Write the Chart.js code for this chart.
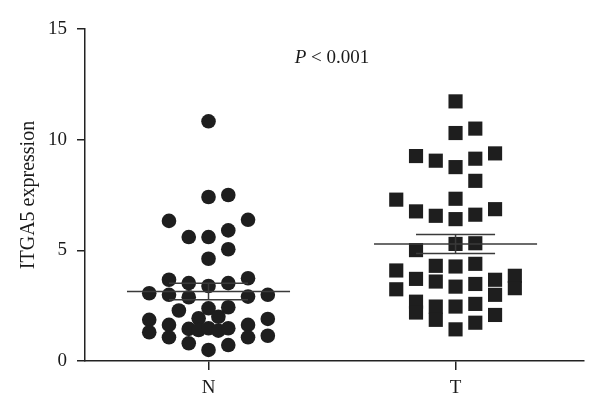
<!DOCTYPE html>
<html>
<head>
<meta charset="utf-8">
<script src="https://cdn.jsdelivr.net/npm/chart.js@4.4.0/dist/chart.umd.min.js"></script>
<style>
html, body { margin: 0; padding: 0; background: #fff; }
#wrap { width: 600px; height: 416px; }
</style>
</head>
<body>
<div id="wrap"><canvas id="dotplot"></canvas></div>
<script>
// groups on the x axis
const groups = ['N', 'T'];
const yTicks = [0, 5, 10, 15];

// N group: horizontal spread (x units from group centre) and ITGA5 expression
const nSpread = [0, 0, 0.08, -0.16, 0.16, -0.08, 0, 0.08, 0.08, 0, -0.16, 0.16, -0.08, 0, 0.08,
    -0.24, -0.16, -0.08, 0.16, 0.24, -0.12, 0, 0.08, -0.04, 0.04, -0.24, -0.16, 0.16, 0.24,
    -0.08, -0.04, 0, 0.04, 0.08, -0.24, -0.16, 0.16, 0.24, -0.08, 0.08, 0];
const nValues = [10.83, 7.41, 7.50, 6.33, 6.38, 5.60, 5.60, 5.90, 5.05, 4.62, 3.67, 3.74, 3.52, 3.39, 3.52,
    3.06, 2.99, 2.88, 2.91, 2.99, 2.28, 2.38, 2.43, 1.93, 2.00, 1.86, 1.63, 1.63, 1.90,
    1.45, 1.40, 1.48, 1.37, 1.48, 1.30, 1.07, 1.07, 1.14, 0.80, 0.72, 0.50];

// T group
const tSpread = [0, 0, 0.08, -0.16, -0.08, 0, 0.08, 0.16, 0.08, -0.24, 0, -0.16, -0.08, 0, 0.08, 0.16,
    0, 0.08, -0.16, -0.08, 0, 0.08, -0.24, -0.24, -0.16, -0.08, 0, 0.08, 0.16, 0.16, 0.16,
    0.24, 0.24, -0.16, -0.16, -0.08, -0.08, 0, 0.08, 0, 0.08];
const tValues = [11.73, 10.30, 10.50, 9.26, 9.05, 8.76, 9.14, 9.38, 8.14, 7.29, 7.33, 6.76, 6.56, 6.41, 6.61, 6.86,
    5.29, 5.32, 5.01, 4.30, 4.27, 4.39, 4.09, 3.24, 3.71, 3.59, 3.36, 3.48, 3.67, 2.99, 2.08,
    3.85, 3.29, 2.68, 2.19, 2.46, 1.86, 2.46, 2.58, 1.43, 1.73];

// mean and standard error
const groupMean = [3.14, 5.29];
const groupSem = [0.37, 0.43];

const pText = ['P', ' < 0.001'];

// ---- build datasets ----
function scatterPoints(center, spread, values) {
    return values.map((v, i) => ({ x: center + spread[i], y: v }));
}

function segment(x1, y1, x2, y2) {
    return {
        type: 'line',
        data: [{ x: x1, y: y1 }, { x: x2, y: y2 }],
        borderColor: '#3a3a3a',
        borderWidth: 1.5,
        pointRadius: 0,
        fill: false
    };
}

const meanHalf = 0.33;
const semHalf = 0.16;
const errorSets = [];
groups.forEach((g, i) => {
    const c = i + 1;
    const m = groupMean[i], s = groupSem[i];
    errorSets.push(segment(c - meanHalf, m, c + meanHalf, m));
    errorSets.push(segment(c - semHalf, m + s, c + semHalf, m + s));
    errorSets.push(segment(c - semHalf, m - s, c + semHalf, m - s));
    errorSets.push(segment(c, m - s, c, m + s));
});

// p value text above the groups
const pLabel = {
    id: 'pLabel',
    afterDraw(chart) {
        const ctx = chart.ctx;
        const x = chart.scales.x.getPixelForValue(1.5);
        const y = chart.scales.y.getPixelForValue(13.7);
        ctx.save();
        ctx.fillStyle = '#1a1a1a';
        ctx.textBaseline = 'middle';
        ctx.textAlign = 'left';
        ctx.font = 'italic 19px "Liberation Serif"';
        const w1 = ctx.measureText(pText[0]).width;
        ctx.font = '19px "Liberation Serif"';
        const w2 = ctx.measureText(pText[1]).width;
        const start = x - (w1 + w2) / 2;
        ctx.font = 'italic 19px "Liberation Serif"';
        ctx.fillText(pText[0], start, y);
        ctx.font = '19px "Liberation Serif"';
        ctx.fillText(pText[1], start + w1, y);
        ctx.restore();
    }
};

const ctx = document.getElementById('dotplot').getContext('2d');
const dotplot = new Chart(ctx, {
    type: 'scatter',
    data: {
        datasets: [
            ...errorSets,
            {
                label: 'N',
                data: scatterPoints(1, nSpread, nValues),
                pointStyle: 'circle',
                pointRadius: 7.3,
                backgroundColor: '#1e1e1e',
                borderColor: '#1e1e1e',
                borderWidth: 0
            },
            {
                label: 'T',
                data: scatterPoints(2, tSpread, tValues),
                pointStyle: 'rect',
                pointRadius: 10,
                backgroundColor: '#1e1e1e',
                borderColor: '#1e1e1e',
                borderWidth: 0
            }
        ]
    },
    options: {
        responsive: true,
        maintainAspectRatio: false,
        animation: false,
        layout: { padding: { top: 29, right: 16, bottom: 0, left: 0 } },
        plugins: {
            legend: { display: false },
            tooltip: { enabled: false }
        },
        scales: {
            x: {
                type: 'linear',
                min: 0.5,
                max: 2.52,
                afterFit: (scale) => { scale.height = 55; },
                afterBuildTicks: (scale) => { scale.ticks = groups.map((g, i) => ({ value: i + 1 })); },
                border: { color: '#222', width: 1.5 },
                grid: { drawOnChartArea: false, drawTicks: true, tickLength: 9, color: '#222', lineWidth: 1.5 },
                ticks: {
                    color: '#1a1a1a',
                    padding: 7,
                    font: { family: 'Liberation Serif', size: 19 },
                    callback: (v) => groups[v - 1]
                }
            },
            y: {
                min: 0,
                max: 15,
                afterFit: (scale) => { scale.width = 85; },
                afterBuildTicks: (scale) => { scale.ticks = yTicks.map(v => ({ value: v })); },
                border: { color: '#222', width: 1.5 },
                grid: { drawOnChartArea: false, drawTicks: true, tickLength: 8, color: '#222', lineWidth: 1.5 },
                ticks: {
                    color: '#1a1a1a',
                    padding: 10,
                    font: { family: 'Liberation Serif', size: 19 }
                },
                title: {
                    display: true,
                    text: 'ITGA5 expression',
                    color: '#1a1a1a',
                    font: { family: 'Liberation Serif', size: 20 },
                    padding: { top: 17, bottom: 0 }
                }
            }
        }
    },
    plugins: [pLabel]
});
</script>
</body>
</html>
